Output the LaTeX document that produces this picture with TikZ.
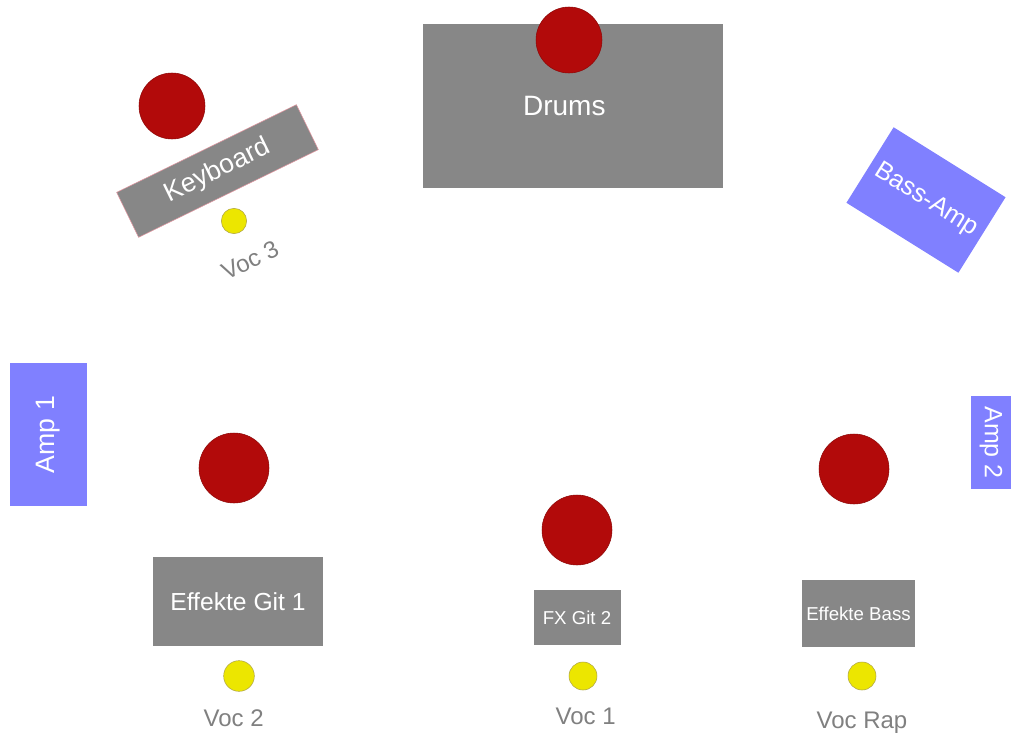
\documentclass[tikz,border=0pt]{standalone}
\usepackage{fontspec}
\setmainfont{Liberation Sans}
\usetikzlibrary{positioning}
\definecolor{stagegray}{RGB}{135,135,135}
\definecolor{playerred}{RGB}{178,10,10}
\definecolor{ampblue}{RGB}{128,128,255}
\definecolor{micyellow}{RGB}{236,230,0}
\definecolor{micborder}{RGB}{175,165,70}
\definecolor{labelgray}{RGB}{128,128,128}
\definecolor{keyborder}{RGB}{225,150,160}
\begin{document}
\begin{tikzpicture}[x=0.75pt, y=-0.75pt, node distance=12pt,
    gear/.style={rectangle, fill=stagegray, text=white, inner sep=0pt},
    amp/.style={rectangle, fill=ampblue, text=white, inner sep=0pt},
    player/.style={circle, fill=playerred, draw=playerred!80!black, minimum size=52.5pt, inner sep=0pt},
    mic/.style={circle, fill=micyellow, draw=micborder, minimum size=21pt, inner sep=0pt},
    voc/.style={text=labelgray, font=\fontsize{18}{18}\selectfont, inner sep=0pt}]
	\clip (0,0) rectangle (1011,736);
	\fill[white] (0,0) rectangle (1011,736);

	% drums and keyboard
	\node[gear, minimum width=225pt, minimum height=123pt, label={[text=white, xshift=-6.5pt, font=\fontsize{21}{21}\selectfont]center:Drums}] (drums) at (573,106) {};
	\node[player, minimum size=49.5pt] (drummer) at (569,40) {};
	\node[gear, draw=keyborder, rotate=26, minimum width=150pt, minimum height=37.5pt, font=\fontsize{20}{20}\selectfont] (keyboard) at (217.5,171) {Keyboard};
	\node[player, minimum size=49.5pt] (keyplayer) at (172,106) {};
	\node[mic, minimum size=19pt] (micthree) at (234,221) {};
	\node[voc, rotate=26] (vocthree) at (250,260) {Voc 3};

	% amps
	\node[amp, rotate=-32, minimum width=99pt, minimum height=66.75pt, font=\fontsize{19}{19}\selectfont] (bassamp) at (926,200) {Bass-Amp};
	\node[amp, rotate=90, minimum width=107.25pt, minimum height=57.75pt, font=\fontsize{20}{20}\selectfont] (ampone) at (48,434.5) {Amp 1};
	\node[amp, rotate=-90, minimum width=69.75pt, minimum height=30pt, font=\fontsize{18.75}{18.75}\selectfont] (amptwo) at (991,442.5) {Amp 2};

	% front line
	\node[player] (gitone) at (234,468) {};
	\node[player] (gittwo) at (577,530) {};
	\node[player] (bassist) at (854,469) {};
	\node[gear, minimum width=127.5pt, minimum height=66.75pt, font=\fontsize{18.5}{18.5}\selectfont] (fxone) at (238,601.5) {Effekte Git 1};
	\node[gear, minimum width=65.25pt, minimum height=41.25pt, font=\fontsize{14}{14}\selectfont] (fxtwo) at (577,617.5) {FX Git 2};
	\node[gear, minimum width=84.75pt, minimum height=50.25pt, font=\fontsize{14}{14}\selectfont] (fxbass) at (858.5,613.5) {Effekte Bass};

	% vocal mics
	\node[mic, minimum size=23pt] (mictwo) at (239,676) {};
	\node[mic] (micone) at (583,676) {};
	\node[mic] (micrap) at (862,676) {};
	\node[voc, below=13.5pt of mictwo, xshift=-4pt] (voctwo) {Voc 2};
	\node[voc, below=13pt of micone, xshift=2pt] (vocone) {Voc 1};
	\node[voc, below=16pt of micrap] (vocrap) {Voc Rap};
\end{tikzpicture}
\end{document}
